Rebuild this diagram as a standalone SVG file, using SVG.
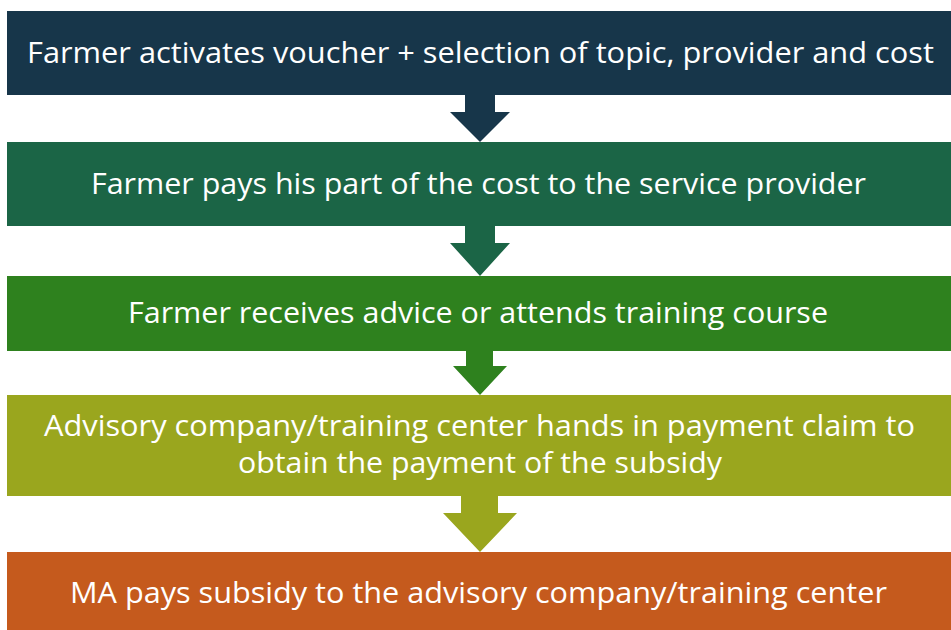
<svg xmlns="http://www.w3.org/2000/svg" width="951" height="630" viewBox="0 0 951 630">
<style>
  text { font-family: "Open Sans", "Noto Sans", "Liberation Sans", sans-serif; font-size: 29px; fill: #ffffff; text-anchor: middle; }
  .c1 { fill: #17364A; }
  .c2 { fill: #1B6546; }
  .c3 { fill: #2E811E; }
  .c4 { fill: #9AA61E; }
  .c5 { fill: #C55A1D; }
</style>
<rect width="951" height="630" fill="#ffffff"/>
<g id="connectors">
  <polygon class="c1" points="465,94 495,94 495,112 510,112 480,142 450,112 465,112"/>
  <polygon class="c2" points="465,225 495,225 495,243 510,243 480,276 450,243 465,243"/>
  <polygon class="c3" points="466,350 493,350 493,366 507,366 480,395 453,366 466,366"/>
  <polygon class="c4" points="461,495 498,495 498,513 517,513 480,552 443,513 461,513"/>
</g>
<g id="step1">
  <rect class="c1" x="7" y="11" width="944" height="84"/>
  <text x="480.5" y="63" textLength="907" lengthAdjust="spacingAndGlyphs">Farmer activates voucher + selection of topic, provider and cost</text>
</g>
<g id="step2">
  <rect class="c2" x="7" y="142" width="944" height="84"/>
  <text x="478.5" y="194" textLength="775" lengthAdjust="spacingAndGlyphs">Farmer pays his part of the cost to the service provider</text>
</g>
<g id="step3">
  <rect class="c3" x="7" y="276" width="944" height="75"/>
  <text x="478" y="323" textLength="700" lengthAdjust="spacingAndGlyphs">Farmer receives advice or attends training course</text>
</g>
<g id="step4">
  <rect class="c4" x="7" y="395" width="944" height="101"/>
  <text x="479.5" y="436" textLength="871" lengthAdjust="spacingAndGlyphs">Advisory company/training center hands in payment claim to</text>
  <text x="480" y="473" textLength="484" lengthAdjust="spacingAndGlyphs">obtain the payment of the subsidy</text>
</g>
<g id="step5">
  <rect class="c5" x="7" y="552" width="944" height="78"/>
  <text x="478.5" y="603" textLength="817" lengthAdjust="spacingAndGlyphs">MA pays subsidy to the advisory company/training center</text>
</g>
</svg>
